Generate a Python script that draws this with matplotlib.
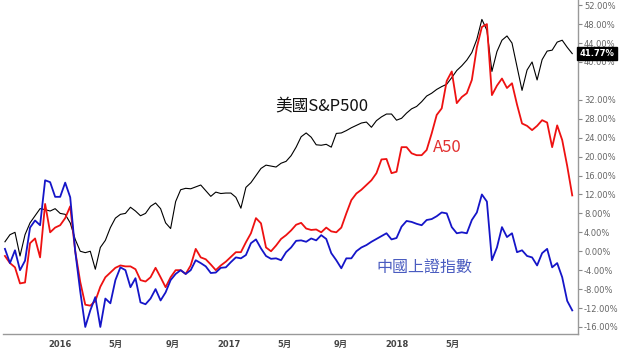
import pandas as pd
import numpy as np
import matplotlib
matplotlib.use('Agg')
import matplotlib.pyplot as plt
import matplotlib.dates as mdates

plt.rcParams['font.family'] = ['DejaVu Sans', 'Noto Sans CJK TC']

# Rendimiento acumulado (%), un punto cada ~11 dias
sp500 = [2.0, 3.5, 4.0, -1.0, 3.5, 6.0, 7.5, 9.0, 8.8, 8.5,
         9.0, 8.0, 7.8, 6.0, 2.5, 0.0, -0.3, 0.0, -3.8, 0.8,
         2.3, 5.0, 7.0, 7.8, 8.0, 9.3, 8.5, 7.5, 8.0, 9.5,
         10.2, 9.0, 6.0, 4.8, 10.5, 13.0, 13.3, 13.2, 13.6, 14.0,
         12.8, 11.6, 12.5, 12.2, 12.3, 12.3, 11.4, 9.1, 13.5, 14.5,
         16.0, 17.5, 18.2, 18.0, 17.8, 18.6, 19.0, 20.2, 22.0, 24.2,
         25.0, 24.1, 22.5, 22.4, 22.6, 22.0, 24.9, 25.0, 25.5, 26.1,
         26.6, 27.1, 27.3, 26.2, 27.6, 28.4, 29.0, 29.0, 27.7, 28.1,
         29.2, 30.1, 30.6, 31.6, 32.8, 33.4, 34.2, 34.8, 35.3, 36.7,
         38.2, 39.2, 40.4, 42.0, 44.8, 49.0, 46.7, 38.0, 42.2, 44.6,
         45.5, 44.0, 39.0, 34.0, 38.3, 40.0, 36.2, 40.5, 42.3, 42.5,
         44.2, 44.6, 43.1, 41.77]

a50 = [-1.0, -2.5, -3.4, -6.8, -6.6, 1.7, 2.7, -1.3, 10.0, 4.0,
       5.0, 5.5, 7.0, 9.5, 0.0, -6.5, -11.3, -11.5, -10.5, -7.5,
       -5.5, -4.5, -3.5, -3.0, -3.2, -3.2, -3.8, -6.1, -6.4, -5.5,
       -3.5, -5.5, -7.6, -5.5, -4.0, -4.0, -4.8, -3.0, 0.5, -1.3,
       -1.7, -2.8, -4.0, -3.0, -2.2, -1.2, -0.2, -0.2, 1.9, 3.8,
       7.0, 5.9, 0.8, 0.0, 1.2, 2.6, 3.4, 4.4, 5.6, 6.0,
       4.8, 4.5, 4.6, 4.0, 5.0, 4.2, 4.0, 5.0, 8.0, 10.8,
       12.2, 13.0, 14.0, 15.0, 16.5, 19.4, 19.5, 16.5, 16.8, 22.0,
       22.0, 20.7, 20.3, 20.3, 21.4, 24.9, 28.8, 30.2, 36.0, 38.0,
       31.3, 32.6, 33.4, 36.2, 43.1, 47.4, 48.0, 33.0, 35.0, 36.5,
       34.5, 35.5, 31.0, 27.0, 26.5, 25.6, 26.5, 27.7, 27.2, 22.0,
       26.6, 23.5, 18.0, 11.8]

shanghai = [0.5, -2.5, 0.2, -4.0, -2.0, 5.0, 6.5, 5.5, 15.0, 14.6,
            11.5, 11.5, 14.5, 11.4, 0.0, -8.5, -16.0, -12.5, -9.7, -16.0,
            -10.0, -11.0, -6.1, -3.4, -4.0, -7.6, -5.7, -10.8, -11.2, -10.0,
            -8.0, -10.4, -8.7, -6.1, -4.8, -4.0, -4.8, -4.0, -1.9, -2.5,
            -3.2, -4.6, -4.5, -3.5, -3.4, -2.3, -1.3, -1.5, -0.8, 1.7,
            2.5, 0.6, -1.0, -1.6, -1.5, -1.9, -0.2, 0.8, 2.2, 2.3,
            2.0, 2.7, 2.3, 3.4, 2.6, -0.4, -1.9, -3.6, -1.5, -1.5,
            0.0, 0.8, 1.3, 2.0, 2.6, 3.2, 3.8, 2.5, 2.8, 5.2,
            6.4, 6.2, 5.8, 5.5, 6.6, 6.8, 7.4, 8.2, 8.0, 5.1,
            3.8, 4.0, 3.8, 6.6, 8.2, 12.0, 10.5, -1.9, 0.8, 5.1,
            3.0, 3.8, -0.2, 0.2, -1.0, -1.3, -3.0, -0.4, 0.5, -3.4,
            -2.5, -5.5, -10.5, -12.5]

fechas = pd.date_range('2015-09-04', periods=len(sp500), freq='261h')

tick_fechas = pd.to_datetime(['2016-01-01', '2016-05-01', '2016-09-01', '2017-01-01',
                              '2017-05-01', '2017-09-01', '2018-01-01', '2018-05-01'])
tick_textos = ['2016', '5月', '9月', '2017', '5月', '9月', '2018', '5月']
y_ticks = [52, 48, 44, 40, 32, 28, 24, 20, 16, 12, 8, 4, 0, -4, -8, -12, -16]

fig = plt.figure(figsize=(6.2, 3.52), dpi=100)
ax = fig.add_axes([0.005, 0.051, 0.927, 0.949])

ax.plot(fechas, sp500, color='black', lw=0.8)
ax.plot(fechas, a50, color='#ee1111', lw=1.3)
ax.plot(fechas, shanghai, color='#1515c8', lw=1.3)

ax.set_xlim(pd.Timestamp('2015-08-31'), pd.Timestamp('2019-01-27'))
ax.set_ylim(-17.5, 53.1)

ax.set_xticks(tick_fechas)
ax.set_xticklabels(tick_textos, fontsize=6, color='#444444', fontweight='bold')
ax.tick_params(axis='x', length=0, pad=4)

ax.yaxis.tick_right()
ax.set_yticks(y_ticks)
ax.set_yticklabels(['%.2f%%' % v for v in y_ticks], fontsize=6, color='#666666')
ax.tick_params(axis='y', length=3, width=0.8, color='#888888', pad=1.5)

for s in ['left', 'top']:
    ax.spines[s].set_visible(False)
for s in ['right', 'bottom']:
    ax.spines[s].set_color('#999999')
    ax.spines[s].set_linewidth(1.0)

# Etiqueta del ultimo valor
ax.text(1.003, sp500[-1], '%.2f%%' % sp500[-1], transform=ax.get_yaxis_transform(),
        fontsize=6, fontweight='bold', color='white', va='center', ha='left',
        bbox=dict(boxstyle='square,pad=0.25', fc='black', ec='black'))

# Nombres de las series
cjk = ['Noto Sans CJK TC', 'DejaVu Sans']
ax.text(pd.Timestamp('2017-04-11'), 30.6, '美國S&P500', fontsize=12,
        family=cjk, color='#111111', va='center')
ax.text(pd.Timestamp('2018-03-19'), 22.0, 'A50', fontsize=12,
        family=cjk, color='#e23030', va='center')
ax.text(pd.Timestamp('2017-11-17'), -3.4, '中國上證指數', fontsize=11.5,
        family=cjk, color='#4a5cc0', va='center')

plt.savefig('out.png', dpi=100)
